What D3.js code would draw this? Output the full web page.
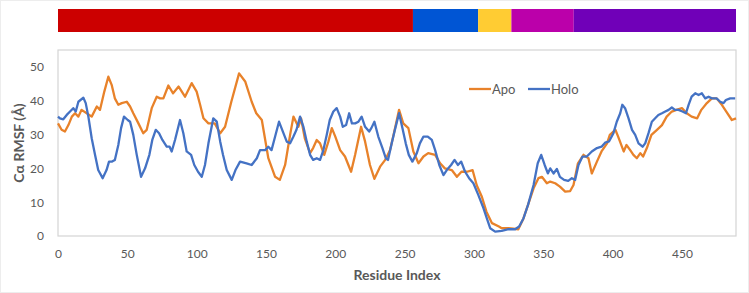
<!DOCTYPE html>
<html>
<head>
<meta charset="utf-8">
<script src="https://cdn.jsdelivr.net/npm/d3@7"></script>
<style>
  body { margin: 0; background: #fff; }
  #chart { width: 749px; height: 293px; }
  text { font-family: Lato, "Open Sans", sans-serif; fill: #595959; }
</style>
</head>
<body>
<div id="chart"></div>
<script>
// Domain bar along the sequence (residue boundaries)
const domainStart = [0, 256, 303, 327, 372];
const domainEnd = [256, 303, 327, 372, 489];
const domainColor = ["#CC0000", "#0055D4", "#FFCC33", "#BB00AA", "#7000B8"];

// Axis ticks
const xTicks = [0, 50, 100, 150, 200, 250, 300, 350, 400, 450];
const yTicks = [0, 10, 20, 30, 40, 50];

// Apo series
const apoResidue = [0, 2.6, 5, 7.5, 10, 12.3, 14.7, 17, 20.7, 24.3, 28, 30.3, 33.4, 36.3, 38.7, 41, 43.5, 46, 49.6, 52,
  54.3, 58, 61.5, 64, 67.6, 71.2, 73.6, 76, 79.6, 83, 87, 91.6, 96.4, 100, 102.5, 104.9, 108.5, 113, 117, 120.5,
  125, 130.6, 135, 139.7, 143, 147, 151.7, 156.6, 160, 163.8, 167.4, 169.8, 173.4, 175.3, 178, 181.8, 184, 186.6, 189, 192,
  195, 197.5, 200, 203.5, 207, 211.4, 214.3, 218.6, 221.5, 225, 228.2, 232.3, 236, 239.5, 242, 246, 249, 252.7, 256.3, 260,
  263.6, 267, 272, 275.6, 279, 284, 287.7, 291, 295, 299, 302, 305.7, 309, 313, 318, 320, 325, 332, 335.7, 339,
  343, 346.5, 349, 352.6, 355, 358.6, 362, 365.8, 369.4, 371.8, 375, 379, 382.6, 385, 388.7, 392, 396, 398, 402, 404,
  408, 410, 412.7, 415, 417.5, 420, 422, 424.7, 428, 432, 435.6, 439, 442.7, 446, 450, 453.5, 457, 461, 464, 468,
  471.6, 475, 478.8, 482, 486, 489];
const apoRmsf = [33.3, 31.4, 30.9, 32.8, 35.3, 36.3, 35.3, 37.3, 36.3, 35.3, 38.3, 37.3, 42.7, 47.1, 44.7, 40.7, 38.8, 39.3, 39.7, 38.3,
  36.3, 33.3, 30.4, 31.4, 37.8, 41.2, 40.7, 40.7, 44.5, 42.2, 44.2, 41.2, 45.2, 42.7, 38.8, 34.8, 33.3, 33.3, 30.4, 32.3,
  39.7, 48.1, 45.7, 39.7, 36.3, 34.3, 23, 17.5, 16.6, 21, 29.9, 35.3, 32.3, 34.8, 28.9, 24.5, 26, 28.4, 27.4, 24,
  27.9, 31.9, 29.4, 25.4, 23.5, 19, 24, 32.3, 27.9, 21, 16.9, 20.5, 22.5, 25.4, 29.9, 37.3, 33.3, 31.9, 25, 21.5,
  23.5, 24.5, 24, 21.5, 20, 19.5, 17.5, 19, 19, 19.5, 15, 11.6, 7.2, 3.8, 2.8, 2.3, 2.3, 2, 5.2, 9.2,
  14.1, 17.1, 17.5, 15.6, 16.1, 15.6, 14.6, 13.1, 13.3, 15.1, 21.5, 24, 23, 18.5, 22, 25, 27.4, 29.9, 31.4, 29.4,
  25, 26.9, 25.4, 24, 23, 24.5, 23.5, 26, 29.9, 31.4, 32.8, 35.3, 36.8, 37.3, 37.8, 36.3, 35.3, 34.8, 37.3, 39.3,
  40.7, 40.7, 38.8, 36.8, 34.3, 34.8];

// Holo series
const holoResidue = [0, 1.4, 3.8, 6.3, 8.7, 11, 12.8, 14.7, 18.3, 20, 21.9, 24.3, 26.7, 29, 32.2, 35, 36.8, 39, 41, 43.5,
  45.5, 47.6, 50.3, 52, 54.3, 56.8, 59.9, 62.8, 65.9, 68, 70.5, 72.9, 75.3, 78.4, 80.5, 82, 84.4, 88, 90.4, 92.8,
  96, 98.3, 101, 103.7, 106, 108.5, 112, 114.5, 117, 119, 121.7, 125.3, 128, 131.3, 136, 139.7, 143.4, 145.7, 149.4, 151.7,
  154, 156.6, 159.4, 162.6, 165, 167.4, 169.8, 172, 174.6, 177, 179.4, 181.8, 184, 186.6, 189, 191.4, 193.8, 196, 198.6, 201,
  203.5, 205.4, 207.8, 210, 212, 214.3, 216.7, 219, 221.5, 224.4, 226, 228.2, 231, 234, 236.4, 238, 240.7, 243, 246, 248.4,
  250.8, 253, 255.6, 258.8, 261, 263.6, 266.7, 269.6, 272, 275, 278, 280.4, 283.5, 286, 288.4, 290.8, 293.6, 296.5, 299.6, 303.2,
  306.9, 309.3, 311.7, 315.3, 320, 325, 329.7, 332.6, 335.7, 339, 343, 346, 348.5, 351, 353.3, 355, 357.4, 359.8, 362, 365,
  368, 370.6, 373, 375.4, 378.3, 381.4, 385, 388.7, 392, 394.6, 397.5, 400.6, 403, 405.5, 407, 409, 411.5, 414, 416.3, 418.7,
  421.6, 423.5, 425.9, 428.3, 430.7, 433, 435.6, 438, 440.4, 442.7, 445, 447.5, 450.4, 452.9, 454.8, 457, 459.6, 462, 464.4, 466.8,
  469.2, 471.6, 475, 477.6, 480, 481.7, 484.8, 488.4];
const holoRmsf = [35.3, 34.8, 34.5, 35.8, 36.8, 37.8, 36.8, 39.7, 40.9, 39.3, 35.3, 28.9, 24, 19.5, 17.1, 19.5, 22, 22, 22.5, 26.9,
  31.9, 35.3, 34.3, 33.8, 29.9, 24, 17.5, 20, 24, 28.4, 31.4, 30.4, 28.4, 26.4, 26.4, 25, 28.4, 34.3, 30.4, 25,
  24, 21, 19, 17.5, 21, 27.4, 34.8, 33.8, 27.9, 24, 19.5, 16.6, 19.5, 22, 21.5, 21, 23, 25.4, 25.4, 26.4,
  25.4, 29.4, 33.8, 30.4, 27.9, 27.4, 29.4, 31.4, 35.3, 32.3, 27.9, 24, 22.5, 23, 22.5, 25.4, 29.9, 34.3, 36.8, 37.8,
  35.3, 32.3, 32.8, 36.3, 33.3, 33.3, 33.8, 35.3, 32.3, 30.9, 31.9, 33.8, 29.4, 26, 23, 22.5, 27.4, 31.4, 36.3, 31.9,
  27.4, 24, 22, 24.5, 27.4, 29.4, 29.4, 28.4, 25.4, 21, 18, 19.5, 21, 22.5, 21, 22, 19, 17.1, 15.6, 12.1,
  8.2, 5.2, 2.3, 1.3, 1.5, 2, 2, 2.8, 5.2, 9.2, 15.1, 21.5, 24, 21, 18.5, 20, 18.5, 19.8, 17.5, 16.6,
  16.3, 17.1, 16.6, 21, 23.5, 23.5, 25, 26, 26.4, 27.6, 28, 30.4, 33.8, 36.3, 38.8, 37.8, 34.8, 31.4, 29.9, 27.4,
  26.4, 27.4, 30.4, 33.8, 34.8, 35.8, 36.3, 36.8, 37.3, 38, 37.3, 37.3, 36.8, 36.3, 38.8, 41.2, 42.2, 41.7, 42.2, 40.7,
  41.2, 40.7, 40.7, 39.7, 39.3, 40.2, 40.7, 40.7];

const seriesNames = ["Apo", "Holo"];
const seriesColors = ["#E8822A", "#4472C4"];

const W = 749, H = 293;
const margin = { top: 50, right: 13, bottom: 57, left: 58 };

const svg = d3.select("#chart").append("svg")
  .attr("width", W)
  .attr("height", H);

// faint outer chart border
svg.append("rect")
  .attr("x", 0.5).attr("y", 0.5)
  .attr("width", W - 1).attr("height", H - 1)
  .attr("fill", "none")
  .attr("stroke", "#EDEDED");

const x = d3.scaleLinear().domain([0, 489]).range([margin.left, W - margin.right]);
const y = d3.scaleLinear().domain([0, 55]).range([H - margin.bottom, margin.top]);

// domain bar on top
svg.append("g")
  .selectAll("rect")
  .data(domainStart)
  .enter()
  .append("rect")
  .attr("x", (d, i) => x(d))
  .attr("width", (d, i) => x(domainEnd[i]) - x(d))
  .attr("y", 9)
  .attr("height", 23)
  .attr("fill", (d, i) => domainColor[i]);

// plot area border
svg.append("rect")
  .attr("x", x(0)).attr("y", margin.top)
  .attr("width", x(489) - x(0))
  .attr("height", y(0) - margin.top)
  .attr("fill", "none")
  .attr("stroke", "#D4D4D4")
  .attr("stroke-width", 1.2);

// axes (labels only, Excel style)
const xAxis = svg.append("g")
  .attr("transform", `translate(0,${y(0)})`)
  .call(d3.axisBottom(x).tickValues(xTicks).tickSize(0).tickPadding(13));
const yAxis = svg.append("g")
  .attr("transform", `translate(${x(0)},0)`)
  .call(d3.axisLeft(y).tickValues(yTicks).tickSize(0).tickPadding(14));

[xAxis, yAxis].forEach(g => {
  g.select(".domain").remove();
  g.selectAll("text")
    .style("font-family", "Lato, 'Open Sans', sans-serif")
    .style("font-size", "12px")
    .attr("fill", "#595959");
});

// lines
const line = d3.line()
  .x(d => x(d[0]))
  .y(d => y(d[1]));

const apoData = apoResidue.map((r, i) => [r, apoRmsf[i]]);
const holoData = holoResidue.map((r, i) => [r, holoRmsf[i]]);

[apoData, holoData].forEach((data, i) => {
  svg.append("path")
    .datum(data)
    .attr("fill", "none")
    .attr("stroke", seriesColors[i])
    .attr("stroke-width", 2.3)
    .attr("stroke-linejoin", "round")
    .attr("d", line);
});

// legend
const legendX = [469, 528];
const legend = svg.append("g");
seriesNames.forEach((name, i) => {
  legend.append("line")
    .attr("x1", legendX[i]).attr("x2", legendX[i] + 22)
    .attr("y1", 89).attr("y2", 89)
    .attr("stroke", seriesColors[i])
    .attr("stroke-width", 2.3);
  legend.append("text")
    .attr("x", legendX[i] + 23)
    .attr("y", 93.5)
    .style("font-size", "13px")
    .text(name);
});

// axis titles
svg.append("text")
  .attr("x", (x(0) + x(489)) / 2)
  .attr("y", 280)
  .attr("text-anchor", "middle")
  .style("font-size", "14px")
  .style("font-weight", "bold")
  .text("Residue Index");

svg.append("text")
  .attr("transform", `translate(24,${(y(0) + margin.top) / 2}) rotate(-90)`)
  .attr("text-anchor", "middle")
  .style("font-size", "14px")
  .style("font-weight", "bold")
  .text("Cα RMSF (Å)");
</script>
</body>
</html>
